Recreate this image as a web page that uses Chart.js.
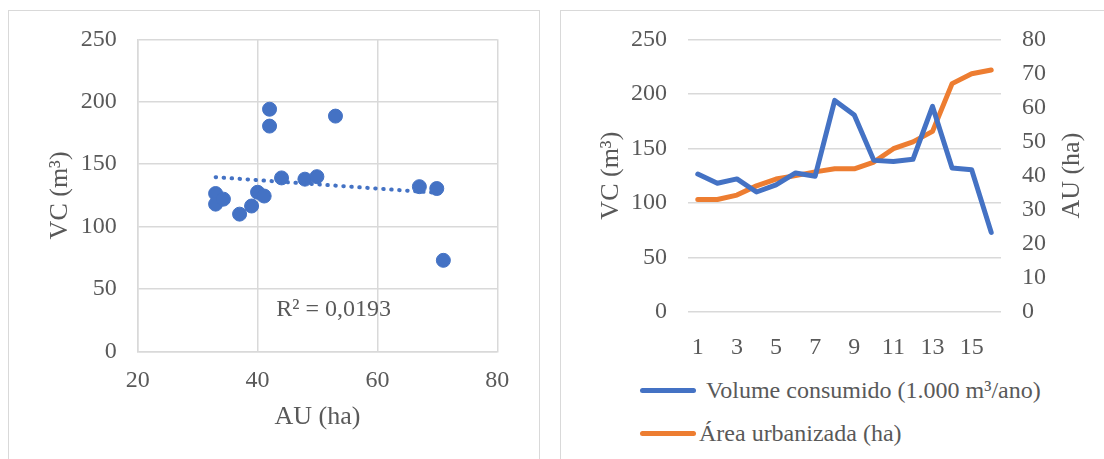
<!DOCTYPE html>
<html>
<head>
<meta charset="utf-8">
<script src="https://cdn.jsdelivr.net/npm/chart.js@4.4.1/dist/chart.umd.min.js"></script>
<style>
  html, body { margin: 0; padding: 0; background: #fff; }
  body { width: 1104px; height: 459px; position: relative; overflow: hidden;
         font-family: 'Liberation Serif', 'Times New Roman', serif; color: #595959; }
  .panel { position: absolute; border: 1px solid #d9d9d9; box-sizing: border-box; }
  #panelL { left: 8px; top: 10px; width: 532px; height: 480px; }
  #panelR { left: 560px; top: 10px; width: 560px; height: 480px; }
  #wrapL { position: absolute; left: 9px; top: 11px; width: 529px; height: 448px; }
  #wrapR { position: absolute; left: 561px; top: 11px; width: 543px; height: 360px; }
  .leg { position: absolute; left: 640px; height: 28px; font-size: 24px; line-height: 28px; white-space: nowrap; }
  .leg i { position: absolute; left: 0; top: 11.5px; width: 56px; height: 5px; border-radius: 3px; }
  .leg span { position: absolute; top: 0; }
</style>
</head>
<body>
<div class="panel" id="panelL"></div>
<div class="panel" id="panelR"></div>
<div id="wrapL"><canvas id="chartDisp"></canvas></div>
<div id="wrapR"><canvas id="chartSerie"></canvas></div>
<div class="leg" id="leg1" style="top:376px"><i></i><span style="left:66px"></span></div>
<div class="leg" id="leg2" style="top:419px"><i></i><span style="left:59px"></span></div>

<script>
// dados
const periodos = ['1', '2', '3', '4', '5', '6', '7', '8', '9', '10', '11', '12', '13', '14', '15', '16'];
const volume = [126.5, 118, 122, 110, 116.5, 127.5, 124.5, 194, 180.5, 139, 138, 140, 188.5, 132, 130.5, 73];
const area = [33, 33, 34.3, 37, 39, 40, 41.1, 42, 42, 44, 47.9, 49.9, 53, 67, 69.9, 71];

const nomeVolume = 'Volume consumido (1.000 m³/ano)';
const nomeArea = 'Área urbanizada (ha)';
const tituloVC = 'VC (m³)';
const tituloAU = 'AU (ha)';
const textoR2 = 'R² = 0,0193';
const posR2 = [52.7, 33.2];

const azul = '#4472C4';
const laranja = '#ED7D31';
const grade = '#d9d9d9';
const cinza = '#595959';

Chart.defaults.font.family = "'Liberation Serif', 'Times New Roman', serif";
Chart.defaults.font.size = 24;
Chart.defaults.color = cinza;

// linha de tendência (mínimos quadrados)
const n = area.length;
const mx = area.reduce((a, b) => a + b, 0) / n;
const my = volume.reduce((a, b) => a + b, 0) / n;
let sxy = 0, sxx = 0;
for (let i = 0; i < n; i++) {
  sxy += (area[i] - mx) * (volume[i] - my);
  sxx += (area[i] - mx) ** 2;
}
const b = sxy / sxx;
const a = my - b * mx;
const xmin = Math.min(...area), xmax = Math.max(...area);
const tendencia = [{ x: xmin, y: a + b * xmin }, { x: xmax, y: a + b * xmax }];

// eixo vertical com largura fixa e sem folga extra em cima/baixo
const fixaY = w => s => { s.width = w; s.paddingTop = 0; s.paddingBottom = 0; };

const rotuloR2 = {
  id: 'rotuloR2',
  afterDatasetsDraw(chart) {
    const ctx = chart.ctx;
    ctx.save();
    ctx.font = "24px 'Liberation Serif'";
    ctx.fillStyle = cinza;
    ctx.textAlign = 'center';
    ctx.textBaseline = 'middle';
    ctx.fillText(textoR2, chart.scales.x.getPixelForValue(posR2[0]), chart.scales.y.getPixelForValue(posR2[1]));
    ctx.restore();
  }
};

// Dispersão VC x AU
new Chart(document.getElementById('chartDisp'), {
  type: 'scatter',
  data: {
    datasets: [{
      data: tendencia,
      showLine: true,
      borderColor: azul,
      borderWidth: 4,
      borderDash: [0.5, 7.5],
      borderCapStyle: 'round',
      pointRadius: 0,
      order: 0
    }, {
      data: area.map((x, i) => ({ x: x, y: volume[i] })),
      backgroundColor: azul,
      borderColor: azul,
      borderWidth: 1,
      pointRadius: 7,
      order: 1
    }]
  },
  options: {
    responsive: true,
    maintainAspectRatio: false,
    animation: false,
    layout: { padding: { left: 31.4, right: 40.7, top: 28.3, bottom: 22.4 } },
    plugins: { legend: { display: false }, tooltip: { enabled: false } },
    scales: {
      x: {
        type: 'linear', min: 20, max: 80,
        ticks: { stepSize: 20, padding: 14.6, maxRotation: 0 },
        grid: { color: grade, lineWidth: 1.5, drawTicks: false },
        border: { color: grade, width: 1.5 },
        title: { display: true, text: tituloAU, font: { size: 26 }, color: cinza },
        afterFit: s => { s.height = 85.1; }
      },
      y: {
        min: 0, max: 250,
        ticks: { stepSize: 50, padding: 21 },
        grid: { color: grade, lineWidth: 1.5, drawTicks: false },
        border: { color: grade, width: 1.5 },
        title: { display: true, text: tituloVC, font: { size: 26 }, color: cinza },
        afterFit: fixaY(97.3)
      }
    }
  },
  plugins: [rotuloR2]
});

const tituloDireita = {
  id: 'tituloDireita',
  afterDraw(chart) {
    const s = chart.scales.y1;
    const ctx = chart.ctx;
    ctx.save();
    ctx.translate(s.left + 71, (s.top + s.bottom) / 2);
    ctx.rotate(-Math.PI / 2);
    ctx.font = "26px 'Liberation Serif'";
    ctx.fillStyle = cinza;
    ctx.textAlign = 'center';
    ctx.textBaseline = 'middle';
    ctx.fillText(tituloAU, 0, 0);
    ctx.restore();
  }
};

// Série temporal
new Chart(document.getElementById('chartSerie'), {
  type: 'line',
  data: {
    labels: periodos,
    datasets: [{
      label: nomeVolume,
      data: volume,
      yAxisID: 'y',
      borderColor: azul,
      backgroundColor: azul,
      borderWidth: 5,
      borderJoinStyle: 'round',
      borderCapStyle: 'round',
      pointRadius: 0,
      tension: 0
    }, {
      label: nomeArea,
      data: area,
      yAxisID: 'y1',
      borderColor: laranja,
      backgroundColor: laranja,
      borderWidth: 5,
      borderJoinStyle: 'round',
      borderCapStyle: 'round',
      pointRadius: 0,
      tension: 0
    }]
  },
  options: {
    responsive: true,
    maintainAspectRatio: false,
    animation: false,
    layout: { padding: { left: 30.4, right: 0, top: 28.3, bottom: 0 } },
    plugins: { legend: { display: false }, tooltip: { enabled: false } },
    scales: {
      x: {
        offset: true,
        grid: { display: false },
        border: { display: false },
        ticks: {
          autoSkip: false, maxRotation: 0, padding: 13.6,
          callback: function (v, i) { return i % 2 === 0 ? this.getLabelForValue(v) : ''; }
        },
        afterFit: s => { s.height = 59; }
      },
      y: {
        position: 'left', min: 0, max: 250,
        ticks: { stepSize: 50, padding: 21 },
        grid: { color: grade, lineWidth: 1.5, drawTicks: false },
        border: { display: false },
        title: { display: true, text: tituloVC, font: { size: 26 }, color: cinza },
        afterFit: fixaY(96.6)
      },
      y1: {
        position: 'right', min: 0, max: 80,
        ticks: { stepSize: 10, padding: 21 },
        grid: { display: false, drawTicks: false },
        border: { display: false },
        afterFit: fixaY(103)
      }
    }
  },
  plugins: [tituloDireita]
});

// legenda
[[nomeVolume, azul, 'leg1'], [nomeArea, laranja, 'leg2']].forEach(([txt, cor, id]) => {
  const el = document.getElementById(id);
  el.querySelector('i').style.background = cor;
  el.querySelector('span').textContent = txt;
});
</script>
</body>
</html>
